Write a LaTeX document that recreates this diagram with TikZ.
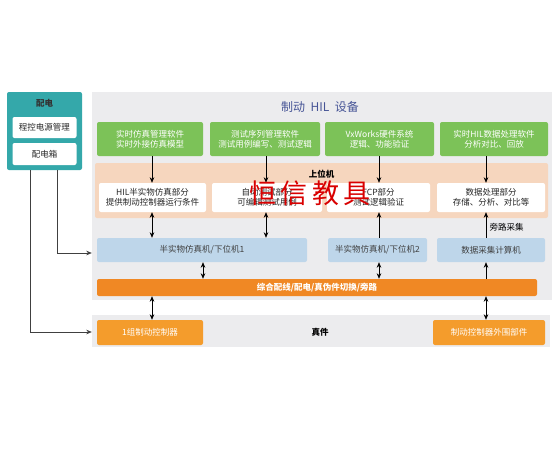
\documentclass[tikz,border=0pt]{standalone}
\usepackage{fontspec}
\setmainfont{Noto Sans CJK SC}
\usetikzlibrary{arrows.meta}
\usetikzlibrary{positioning}
\usepackage{xcolor}

\definecolor{panelgray}{RGB}{236,236,238}
\definecolor{tealbox}{RGB}{52,168,170}
\definecolor{greenbox}{RGB}{124,194,88}
\definecolor{peach}{RGB}{246,214,190}
\definecolor{bluebox}{RGB}{190,214,234}
\definecolor{orangebar}{RGB}{240,136,36}
\definecolor{orangebox}{RGB}{244,156,44}
\definecolor{titleblue}{RGB}{70,84,150}

\tikzset{
    box/.style = {rounded corners = 2pt, inner sep = 0pt, align = center,
        font = \fontsize{8.5}{10}\selectfont},
    greenpart/.style = {box, fill = greenbox, text = white},
    whitepart/.style = {box, fill = white, text = black!85},
    bluepart/.style = {box, fill = bluebox, text = black!75},
    orangepart/.style = {box, fill = orangebox, text = white},
    link/.style = {line width = 0.7pt, -{Stealth[length = 5.5pt, width = 4.5pt]}},
    dlink/.style = {line width = 0.7pt, {Stealth[length = 5.5pt, width = 4.5pt]}-{Stealth[length = 5.5pt, width = 4.5pt]}}
}

\begin{document}
\begin{tikzpicture}[x = 1pt, y = -1pt]
    \useasboundingbox[fill = white] (0,0) rectangle (560,450);

    % power supply
    \node[fill = tealbox, rounded corners = 2pt, minimum width = 75, minimum height = 78] (pd) at (44.5,131) {};
    \node[font = \fontsize{8.5}{9}\selectfont\bfseries, text = black!80] (pdtitle) at (44.5,103) {配电};
    \node[whitepart, minimum width = 64, minimum height = 21] (psu) at (44.5,127.5) {程控电源管理};
    \node[whitepart, minimum width = 64, minimum height = 22] (box) at (44.5,154) {配电箱};

    % HIL equipment
    \node[fill = panelgray, minimum width = 460, minimum height = 208] (hil) at (322,196) {};
    \node[font = \fontsize{12}{14}\selectfont, text = titleblue] (hiltitle) at (320,107) {制动~~HIL~~设备};

    \node[greenpart, minimum width = 106, minimum height = 34] (g1) at (150,139) {实时仿真管理软件\\实时外接仿真模型};
    \node[greenpart, minimum width = 110, minimum height = 34] (g2) at (265,139) {测试序列管理软件\\测试用例编写、测试逻辑};
    \node[greenpart, minimum width = 109, minimum height = 34] (g3) at (379.5,139) {VxWorks硬件系统\\逻辑、功能验证};
    \node[greenpart, minimum width = 108, minimum height = 34] (g4) at (494,139) {实时HIL数据处理软件\\分析对比、回放};

    \node[fill = peach, rounded corners = 2pt, minimum width = 453, minimum height = 55] (host) at (321.5,190.5) {};
    \node[font = \fontsize{8.5}{9}\selectfont\bfseries] (hosttitle) at (321.5,174) {上位机};

    \node[whitepart, minimum width = 107, minimum height = 29] (w1) at (152.5,197.5) {HIL半实物仿真部分\\提供制动控制器运行条件};
    \node[whitepart, minimum width = 110, minimum height = 29] (w2) at (267,197.5) {自动测试部分\\可编辑测试用例};
    \node[whitepart, minimum width = 103, minimum height = 29] (w3) at (378.5,197.5) {FCP部分\\测试逻辑验证};
    \node[whitepart, minimum width = 108, minimum height = 29] (w4) at (491,197.5) {数据处理部分\\存储、分析、对比等};

    \node[bluepart, minimum width = 210, minimum height = 24] (b1) at (202,250) {半实物仿真机/下位机1};
    \node[bluepart, minimum width = 99, minimum height = 24] (b2) at (377.5,250) {半实物仿真机/下位机2};
    \node[bluepart, minimum width = 108, minimum height = 24] (b3) at (491,250) {数据采集计算机};

    \node[box, fill = orangebar, text = white, minimum width = 440, minimum height = 17,
        font = \fontsize{8.5}{9}\selectfont\bfseries] (bus) at (317,287.5) {综合配线/配电/真伪件切换/旁路};

    % real parts
    \node[fill = panelgray, minimum width = 458, minimum height = 32] (real) at (321,331) {};
    \node[font = \fontsize{8.5}{9}\selectfont\bfseries] (realtitle) at (320,332) {真件};
    \node[orangepart, minimum width = 106, minimum height = 25] (o1) at (150,332.5) {1组制动控制器};
    \node[orangepart, minimum width = 112, minimum height = 25] (o2) at (489,332.5) {制动控制器外围部件};

    % connections
    \draw[link] (g1.south -| 152,0) -- (w1.north -| 152,0);
    \draw[link] (g2.south -| 266,0) -- (w2.north -| 266,0);
    \draw[link] (g3.south -| 379,0) -- (w3.north -| 379,0);
    \draw[link] (g4.south -| 486,0) -- (w4.north -| 486,0);

    \draw[dlink] (w1.south -| 152,0) -- (b1.north -| 152,0);
    \draw[dlink] (w2.south -| 266,0) -- (b1.north -| 266,0);
    \draw[link] (b2.north -| 379,0) -- (w3.south -| 379,0);
    \draw[link] (b3.north -| 486,0) -- node[anchor = west, pos = 0.4, font = \fontsize{8.5}{9}\selectfont] (bypass) {旁路采集} (w4.south -| 486,0);

    \draw[dlink] (b1.south -| 203,0) -- (bus.north -| 203,0);
    \draw[dlink] (b2.south -| 379,0) -- (bus.north -| 379,0);
    \draw[link] (bus.north -| 486,0) -- (b3.south -| 486,0);

    \draw[dlink] (bus.south -| 152,0) -- (o1.north -| 152,0);
    \draw[dlink] (bus.south -| 486,0) -- (o2.north -| 486,0);

    \coordinate (pdA) at (30,170);
    \coordinate (pdB) at (57,170);
    \draw[link, black!75] (pdA) |- (real.west |- 0,332);
    \draw[link, black!75] (pdB) |- (hil.west |- 0,253);

    % watermark
    \node[text = red!85!black, font = \fontsize{27}{30}\selectfont] (mark) at (310,193) {恒\,信\,教\,具};
\end{tikzpicture}
\end{document}
